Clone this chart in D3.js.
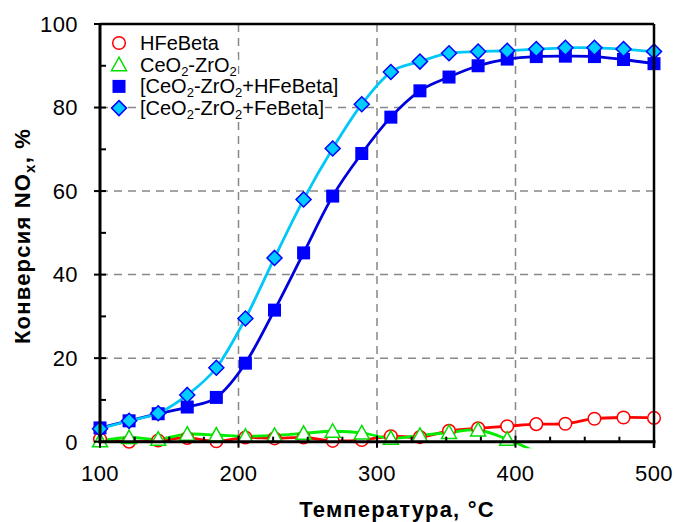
<!DOCTYPE html>
<html><head><meta charset="utf-8">
<script src="https://cdn.jsdelivr.net/npm/d3@7"></script>
<style>body{margin:0;background:#fff;} text{font-family:"Liberation Sans",Arial,sans-serif;}</style>
</head><body>
<svg id="c" width="674" height="522"></svg>
<script>
// ---- data ----
const temps = [100,121,142,163,184,205,226,247,268,289,310,331,352,373,394,415,436,457,478,500];
const hfebeta = [0.6,0.0,0.3,0.9,0.1,1.0,0.8,1.0,0.2,0.4,1.3,1.1,2.6,3.2,3.7,4.2,4.3,5.5,5.8,5.7];
const ceozr = [0.2,1.0,0.6,1.8,1.6,1.3,1.5,2.0,2.5,2.1,0.8,1.5,2.2,2.8,0.6,-2.5];
const mixHFe = [3.3,5.0,6.7,8.3,10.6,18.8,31.5,45.2,58.8,69.0,77.7,84.0,87.3,90.0,91.6,92.2,92.3,92.2,91.5,90.5];
const mixFe = [3.1,5.0,6.8,11.2,17.7,29.5,44.0,58.0,70.2,80.8,88.5,91.0,93.0,93.4,93.6,94.0,94.3,94.3,94.0,93.4];
const xTicks = [100,200,300,400,500];
const xMinor = [125,150,175,225,250,275,325,350,375,425,450,475];
const yTicks = [0,20,40,60,80,100];
const yMinor = [10,30,50,70,90];
const seriesNames = [
  [["HFeBeta",0]],
  [["CeO",0],["2",1],["-ZrO",0],["2",1]],
  [["[CeO",0],["2",1],["-ZrO",0],["2",1],["+HFeBeta]",0]],
  [["[CeO",0],["2",1],["-ZrO",0],["2",1],["+FeBeta]",0]]
];

const svg = d3.select("#c");
const L=100,R=654,T=24,B=441.7;
const x = d3.scaleLinear().domain([100,500]).range([L,R]);
const y = d3.scaleLinear().domain([0,100]).range([B,T]);

const series = [
  {vals:hfebeta, line:"#FF0000", mk:"circle", fill:"#fff", stroke:"#FF0000"},
  {vals:ceozr, line:"#00EE00", mk:"triangle", fill:"#fff", stroke:"#00DD00"},
  {vals:mixHFe, line:"#0000DD", mk:"square", fill:"#0000FF", stroke:"#0000FF"},
  {vals:mixFe, line:"#00C8F8", mk:"diamond", fill:"#00CCFF", stroke:"#0000FF"}
];

// grid
const dash = "8,6";
svg.append("g").selectAll("line").data(xTicks.filter(d=>d>100&&d<500)).join("line")
  .attr("x1",d=>x(d)).attr("x2",d=>x(d)).attr("y1",T).attr("y2",B)
  .attr("stroke","#888").attr("stroke-width",1.5).attr("stroke-dasharray",dash);
svg.append("g").selectAll("line").data(yTicks.filter(d=>d>0&&d<100)).join("line")
  .attr("x1",L).attr("x2",R).attr("y1",d=>y(d)).attr("y2",d=>y(d))
  .attr("stroke","#888").attr("stroke-width",1.5).attr("stroke-dasharray",dash);

// clip for lines
svg.append("clipPath").attr("id","pc").append("rect")
  .attr("x",L).attr("y",T).attr("width",R-L).attr("height",B-T+6.5);

const lineGen = d3.line().x(d=>x(d[0])).y(d=>y(d[1])).curve(d3.curveCatmullRom.alpha(0));
const lg = svg.append("g").attr("clip-path","url(#pc)");
series.forEach(s=>{
  const pts = s.vals.map((v,i)=>[temps[i],v]);
  lg.append("path").attr("d",lineGen(pts)).attr("fill","none")
    .attr("stroke",s.line).attr("stroke-width",2.8);
});

// markers
function marker(g, type, cx, cy, s){
  let el;
  if(type==="circle") el=g.append("circle").attr("cx",cx).attr("cy",cy).attr("r",6.3);
  else if(type==="triangle") el=g.append("path").attr("d",`M${cx},${cy-7.5}L${cx+7.5},${cy+6}L${cx-7.5},${cy+6}Z`);
  else if(type==="square") el=g.append("rect").attr("x",cx-6.5).attr("y",cy-6.5).attr("width",13).attr("height",13);
  else el=g.append("path").attr("d",`M${cx},${cy-7.5}L${cx+7.5},${cy}L${cx},${cy+7.5}L${cx-7.5},${cy}Z`);
  el.attr("fill",s.fill).attr("stroke",s.stroke).attr("stroke-width",type==="square"?0:1.5);
}
const mg = svg.append("g");
series.forEach(s=>{
  s.vals.forEach((v,i)=>{ if(v>=0) marker(mg, s.mk, x(temps[i]), y(v), s); });
});

// axes frame
svg.append("line").attr("x1",L).attr("x2",R).attr("y1",T).attr("y2",T).attr("stroke","#000").attr("stroke-width",2.5);
svg.append("line").attr("x1",R).attr("x2",R).attr("y1",T).attr("y2",B+6).attr("stroke","#000").attr("stroke-width",2.5);
svg.append("line").attr("x1",L).attr("x2",L).attr("y1",T-1).attr("y2",B+1.5).attr("stroke","#000").attr("stroke-width",3);
svg.append("line").attr("x1",L-1.5).attr("x2",R+1.5).attr("y1",B).attr("y2",B).attr("stroke","#000").attr("stroke-width",3);

// ticks
svg.append("g").selectAll("line").data(yTicks).join("line")
  .attr("x1",L-6).attr("x2",L+6).attr("y1",d=>y(d)).attr("y2",d=>y(d)).attr("stroke","#000").attr("stroke-width",2);
svg.append("g").selectAll("line").data(yMinor).join("line")
  .attr("x1",L).attr("x2",L+6).attr("y1",d=>y(d)).attr("y2",d=>y(d)).attr("stroke","#000").attr("stroke-width",2);
svg.append("g").selectAll("line").data(xTicks).join("line")
  .attr("x1",d=>x(d)).attr("x2",d=>x(d)).attr("y1",B-6).attr("y2",B+6).attr("stroke","#000").attr("stroke-width",2);
svg.append("g").selectAll("line").data(xMinor).join("line")
  .attr("x1",d=>x(d)).attr("x2",d=>x(d)).attr("y1",B-5).attr("y2",B).attr("stroke","#000").attr("stroke-width",2);

// tick labels
svg.append("g").selectAll("text").data(yTicks).join("text")
  .attr("x",78).attr("y",d=>y(d)+7.8).attr("text-anchor","end")
  .attr("font-size",22).attr("letter-spacing",0.4).text(d=>d);
svg.append("g").selectAll("text").data(xTicks).join("text")
  .attr("x",d=>x(d)).attr("y",481).attr("text-anchor","middle")
  .attr("font-size",22).attr("letter-spacing",0.4).text(d=>d);

// axis titles
svg.append("text").attr("x",397).attr("y",516.5).attr("text-anchor","middle")
  .attr("font-size",22).attr("font-weight","bold").attr("letter-spacing",1.2).text("Температура, °C");
const yt = svg.append("text").attr("transform","translate(30,236) rotate(-90)")
  .attr("text-anchor","middle").attr("font-size",22).attr("font-weight","bold").attr("letter-spacing",1.2);
yt.append("tspan").text("Конверсия NO");
yt.append("tspan").attr("font-size",15).attr("dy",5).text("x");
yt.append("tspan").attr("dy",-5).text(", %");

// legend
const lgd = svg.append("g");
seriesNames.forEach((parts,i)=>{
  const cy = 43 + i*21.7;
  const t = lgd.append("text").attr("x",140).attr("y",cy+7).attr("font-size",20);
  let sub=false;
  parts.forEach(p=>{
    const ts = t.append("tspan").text(p[0]);
    if(p[1]&&!sub){ ts.attr("font-size",13).attr("dy",4); sub=true; }
    else if(!p[1]&&sub){ ts.attr("dy",-4); sub=false; }
  });
  const bb = t.node().getBBox();
  lgd.insert("rect","text").attr("x",bb.x-1).attr("y",bb.y+2).attr("width",bb.width+2).attr("height",bb.height-3).attr("fill","#fff");
  marker(lgd, series[i].mk, 119, cy, series[i]);
});
</script>
</body></html>
